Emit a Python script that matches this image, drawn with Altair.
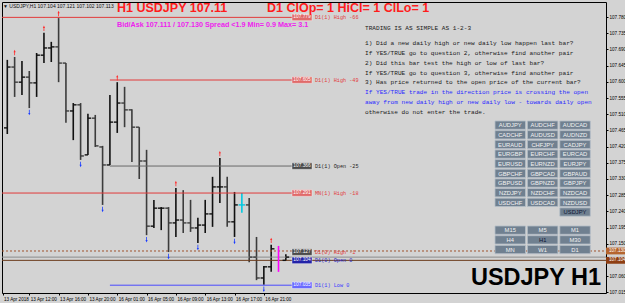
import altair as alt
import pandas as pd

# ---------------- data ----------------
bar_index = list(range(37)) + [38]
bar_open = [107.472, 107.641, 107.599, 107.613, 107.597, 107.674, 107.694, 107.697, 107.652, 107.519,
            107.536, 107.397, 107.499, 107.419, 107.369, 107.488, 107.541, 107.522, 107.474, 107.380,
            107.199, 107.249, 107.249, 107.208, 107.216, 107.208, 107.194, 107.202, 107.233, 107.308,
            107.308, 107.211, 107.258, 107.258, 107.113, 107.055, 107.086, 107.104]
bar_high = [107.661, 107.669, 107.658, 107.630, 107.680, 107.736, 107.711, 107.777, 107.652, 107.541,
            107.541, 107.511, 107.508, 107.422, 107.563, 107.599, 107.586, 107.524, 107.474, 107.411,
            107.272, 107.252, 107.252, 107.305, 107.299, 107.272, 107.222, 107.272, 107.336, 107.388,
            107.336, 107.294, 107.291, 107.277, 107.169, 107.088, 107.147, 107.121]
bar_low = [107.455, 107.558, 107.563, 107.527, 107.558, 107.652, 107.655, 107.599, 107.486, 107.438,
           107.383, 107.397, 107.419, 107.258, 107.369, 107.458, 107.474, 107.377, 107.330, 107.174,
           107.194, 107.188, 107.127, 107.169, 107.180, 107.183, 107.152, 107.180, 107.197, 107.263,
           107.197, 107.169, 107.236, 107.099, 107.049, 107.036, 107.072, 107.102]
bar_close = [107.641, 107.599, 107.613, 107.597, 107.674, 107.694, 107.697, 107.652, 107.519, 107.536,
             107.394, 107.499, 107.422, 107.369, 107.488, 107.541, 107.522, 107.474, 107.380, 107.199,
             107.249, 107.249, 107.208, 107.216, 107.208, 107.194, 107.202, 107.233, 107.308, 107.308,
             107.211, 107.258, 107.258, 107.113, 107.055, 107.086, 107.136, 107.113]
cyan_bar = 32
magenta_bar = [37]
magenta_high = [107.144]
magenta_low = [107.072]

up_arrow_bars = [1, 5, 7, 15, 23, 29, 36]
down_arrow_bars = [3, 10, 13, 19, 22, 26, 31, 35]

level_price = [107.779, 107.605, 107.366, 107.291, 107.035]
level_start = [-0.72, 14, 14, -0.72, 14]
level_color = ["#e23b3b", "#e23b3b", "#6a6a6a", "#e23b3b", "#4a4aff"]

tag_price = [107.779, 107.605, 107.366, 107.291, 107.127, 107.104, 107.035]
tag_fill = ["#e06a6a", "#e06a6a", "#4a4a4a", "#e06a6a", "#4a4a4a", "#2323a8", "#6a6aff"]
tag_label = ["D1(1) High  -66", "D1(1) High  -49", "D1(1) Open  -25", "MN(1) High  -18",
             "D1(0) High  -1", "D1(0) Open  0", "D1(1) Low  0"]
tag_label_color = ["#e23b3b", "#e23b3b", "#222222", "#e23b3b", "#e23b3b", "#2323c8", "#3a3aff"]

ask_price = [107.130]
bid_price = [107.113]
dopen_price = [107.104]
axis_tag_price = [107.130, 107.104]
axis_tag_fill = ["#b5652e", "#8e3e12"]

ytick_values = [107.015, 107.060, 107.150, 107.195, 107.240, 107.285, 107.330, 107.375, 107.420,
                107.465, 107.510, 107.555, 107.600, 107.645, 107.690, 107.735, 107.780]
xlab_pos = [-0.65, 3, 7, 11, 15, 19, 23, 27, 31, 35]
xlab_text = ["13 Apr 2018", "13 Apr 12:00", "13 Apr 16:00", "13 Apr 20:00", "16 Apr 01:00",
             "16 Apr 05:00", "16 Apr 09:00", "16 Apr 13:00", "16 Apr 17:00", "16 Apr 21:00"]

header_text = ["\u25bc USDJPY,H1  107.104 107.121 107.102 107.113"]
title_left = ["H1 USDJPY 107.11"]
title_right = ["D1 ClOp= 1 HiCl= 1 ClLo= 1"]
bidask_text = ["Bid/Ask 107.111 / 107.130  Spread  <1.9  Min= 0.9  Max= 3.1"]
big_text = ["USDJPY H1"]

rules_lines = ["TRADING IS AS SIMPLE AS 1-2-3",
               "1) Did a new daily high or new daily low happen last bar?",
               "If YES/TRUE go to question 2, otherwise find another pair",
               "2) Did this bar test the high or low of last bar?",
               "If YES/TRUE go to question 3, otherwise find another pair",
               "3) Has price returned to the open price of the current bar?",
               "If YES/TRUE trade in the direction price is crossing the open",
               "away from new daily high or new daily low - towards daily open",
               "otherwise do not enter the trade."]
rules_blue = [False, False, False, False, False, False, True, True, False]

pair_buttons = [["AUDJPY", "AUDCHF", "AUDCAD"], ["CADCHF", "AUDUSD", "AUDNZD"],
                ["EURAUD", "CHFJPY", "CADJPY"], ["EURGBP", "EURCHF", "EURCAD"],
                ["EURUSD", "EURNZD", "EURJPY"], ["GBPCHF", "GBPCAD", "GBPAUD"],
                ["GBPUSD", "GBPNZD", "GBPJPY"], ["NZDJPY", "NZDCHF", "NZDCAD"],
                ["USDCHF", "USDCAD", "NZDUSD"], ["", "", "USDJPY"]]
tf_buttons = [["M15", "M5", "M1"], ["H4", "H1", "M30"], ["MN", "W1", "D1"]]
selected = ["USDJPY", "H1"]

# ---------------- layout ----------------
W, H = 604, 291          # plot area (image x 2..606, y 2..293)
def vx(px): return px - 2
def vy(py): return py - 2

X0 = -5.3 / 7.33
X1 = (W - 5.3) / 7.33
xs = alt.Scale(domain=[X0, X1], nice=False, zero=False)
ys = alt.Scale(domain=[107.0133, 107.8217], nice=False, zero=False)
PPX = (107.8217 - 107.0133) / H     # price per pixel
TAG_END = (292 - 7.3) / 7.33

bars = pd.DataFrame({"i": bar_index, "O": bar_open, "H": bar_high, "L": bar_low, "C": bar_close})
bars["col"] = ["#00c8e0" if i == cyan_bar else ("#111111" if c >= o else "#3c3c3c")
               for i, o, c in zip(bar_index, bar_open, bar_close)]

expr = "''"
for p, t in reversed(list(zip(xlab_pos, xlab_text))):
    expr = f"abs(datum.value - ({p})) < 0.01 ? '{t}' : ({expr})"

main = alt.Chart(bars).mark_rule(strokeWidth=1.6).encode(
    x=alt.X("i:Q", scale=xs, axis=alt.Axis(values=xlab_pos, labelExpr=expr, labelAlign="left",
                                           labelFontSize=4.6, labelPadding=1, labelOffset=1, tickSize=2,
                                           domain=False, grid=False, labelOverlap=False, labelFlush=False,
                                           labelBound=False, title=None, tickColor="black",
                                           labelColor="black", labelFont="Liberation Sans")),
    y=alt.Y("H:Q", scale=ys, axis=alt.Axis(orient="right", values=ytick_values, format=".3f",
                                           labelFontSize=4.6, labelPadding=1, tickSize=2, domain=False,
                                           grid=False, labelOverlap=False, labelFlush=False,
                                           labelBound=False, title=None, tickColor="black",
                                           labelColor="black", labelFont="Liberation Sans")),
    y2="L:Q",
    color=alt.Color("col:N", scale=None),
)

open_ticks = alt.Chart(bars).transform_calculate(xo="datum.i - 0.45").mark_rule(strokeWidth=1.4).encode(
    x=alt.X("xo:Q", scale=xs, axis=None), x2="i:Q",
    y=alt.Y("O:Q", scale=ys, axis=None), color=alt.Color("col:N", scale=None))
close_ticks = alt.Chart(bars).transform_calculate(xc="datum.i + 0.45").mark_rule(strokeWidth=1.4).encode(
    x=alt.X("i:Q", scale=xs, axis=None), x2="xc:Q",
    y=alt.Y("C:Q", scale=ys, axis=None), color=alt.Color("col:N", scale=None))

mag = pd.DataFrame({"i": magenta_bar, "H": magenta_high, "L": magenta_low})
magenta = alt.Chart(mag).mark_rule(strokeWidth=1.6, color="#ff00ff").encode(
    x=alt.X("i:Q", scale=xs, axis=None), y=alt.Y("H:Q", scale=ys, axis=None), y2="L:Q")

up = pd.DataFrame({"i": up_arrow_bars, "p": [bar_high[k] for k in up_arrow_bars]})
dn = pd.DataFrame({"i": down_arrow_bars, "p": [bar_low[k] for k in down_arrow_bars]})
up_arrows = alt.Chart(up).transform_calculate(pa=f"datum.p + {4.5 * PPX}").mark_point(
    shape="arrow", filled=True, size=30, color="#ff2a2a", opacity=1).encode(
    x=alt.X("i:Q", scale=xs, axis=None), y=alt.Y("pa:Q", scale=ys, axis=None))
dn_arrows = alt.Chart(dn).transform_calculate(pa=f"datum.p - {4.5 * PPX}").mark_point(
    shape="arrow", angle=180, filled=True, size=30, color="#1a3cff", opacity=1).encode(
    x=alt.X("i:Q", scale=xs, axis=None), y=alt.Y("pa:Q", scale=ys, axis=None))

lv = pd.DataFrame({"p": level_price, "s": level_start, "c": level_color})
lv["e"] = TAG_END
levels = alt.Chart(lv).mark_rule(strokeWidth=1).encode(
    x=alt.X("s:Q", scale=xs, axis=None), x2="e:Q",
    y=alt.Y("p:Q", scale=ys, axis=None), color=alt.Color("c:N", scale=None))

full_solid = pd.DataFrame({"p": bid_price + dopen_price, "c": ["#8c8c8c", "#6b3a1a"]})
solid_lines = alt.Chart(full_solid).mark_rule(strokeWidth=1).encode(
    x=alt.value(0), x2=alt.value(W), y=alt.Y("p:Q", scale=ys, axis=None),
    color=alt.Color("c:N", scale=None))
ask_line = alt.Chart(pd.DataFrame({"p": ask_price})).mark_rule(
    strokeWidth=1, strokeDash=[2, 2], color="#a0522d").encode(
    x=alt.value(0), x2=alt.value(W), y=alt.Y("p:Q", scale=ys, axis=None))

tags = pd.DataFrame({"p": tag_price, "f": tag_fill, "lab": tag_label, "lc": tag_label_color})
tags["t"] = [f"{p:.3f}" for p in tag_price]
half = 3.3 * PPX
tag_boxes = alt.Chart(tags).transform_calculate(
    p0=f"datum.p - {half}", p1=f"datum.p + {half}").mark_rect(stroke="#ffffff", strokeWidth=0.4).encode(
    x=alt.value(vx(292)), x2=alt.value(vx(312)),
    y=alt.Y("p0:Q", scale=ys, axis=None), y2="p1:Q", fill=alt.Fill("f:N", scale=None))
tag_text = alt.Chart(tags).mark_text(fontSize=4.8, color="white", align="center", baseline="middle",
                                     font="Liberation Sans").encode(
    x=alt.value(vx(302)), y=alt.Y("p:Q", scale=ys, axis=None), text="t:N")
tag_labels = alt.Chart(tags).mark_text(fontSize=5.2, align="left", baseline="middle",
                                       font="Liberation Mono").encode(
    x=alt.value(vx(315)), y=alt.Y("p:Q", scale=ys, axis=None), text="lab:N",
    color=alt.Color("lc:N", scale=None))

at = pd.DataFrame({"p": axis_tag_price, "f": axis_tag_fill})
at["t"] = [f"{p:.3f}" for p in axis_tag_price]
axis_boxes = alt.Chart(at).transform_calculate(
    p0=f"datum.p - {3.4 * PPX}", p1=f"datum.p + {3.4 * PPX}").mark_rect().encode(
    x=alt.value(W), x2=alt.value(W + 19), y=alt.Y("p0:Q", scale=ys, axis=None), y2="p1:Q",
    fill=alt.Fill("f:N", scale=None))
axis_text = alt.Chart(at).mark_text(fontSize=4.6, color="white", align="left", baseline="middle",
                                    font="Liberation Sans").encode(
    x=alt.value(W + 3), y=alt.Y("p:Q", scale=ys, axis=None), text="t:N")


def one_text(txt, x, y, **kw):
    return alt.Chart(pd.DataFrame({"t": txt})).mark_text(**kw).encode(
        x=alt.value(x), y=alt.value(y), text="t:N")


header = one_text(header_text, vx(3), vy(5.5), fontSize=5, align="left", baseline="middle",
                  font="Liberation Sans", color="#111111")
t_left = one_text(title_left, vx(117), vy(12), fontSize=12.5, fontWeight="bold", align="left",
                  baseline="alphabetic", font="Liberation Sans", color="#ff1c1c")
t_right = one_text(title_right, vx(267), vy(12), fontSize=12.5, fontWeight="bold", align="left",
                   baseline="alphabetic", font="Liberation Sans", color="#ff1c1c")
t_bid = one_text(bidask_text, vx(117), vy(27), fontSize=7.2, fontWeight="bold", align="left",
                 baseline="alphabetic", font="Liberation Sans", color="#ee22ee")
t_big = one_text(big_text, vx(536), vy(285), fontSize=23.5, fontWeight="bold", align="center",
                 baseline="alphabetic", font="Liberation Sans", color="#000000")

rl = pd.DataFrame({"t": rules_lines,
                   "c": ["#2a2aff" if b else "#1a1a1a" for b in rules_blue]})
rl["py"] = [vy(27.7)] + [vy(43.3 + 9.77 * k) for k in range(len(rules_lines) - 1)]
rules_text = alt.Chart(rl).mark_text(fontSize=6.1, align="left", baseline="middle",
                                     font="Liberation Mono").encode(
    x=alt.value(vx(365)), y=alt.Y("py:Q", scale=None, axis=None), text="t:N",
    color=alt.Color("c:N", scale=None))

rows = []
for r, row in enumerate(pair_buttons):
    for c, name in enumerate(row):
        if name:
            rows.append({"t": name, "x0": vx(495 + 32.4 * c), "y0": vy(121 + 9.65 * r)})
for r, row in enumerate(tf_buttons):
    for c, name in enumerate(row):
        rows.append({"t": name, "x0": vx(495 + 32.4 * c), "y0": vy(226 + 9.7 * r)})
btn = pd.DataFrame(rows)
btn["x1"] = btn["x0"] + 30.5
btn["y1"] = btn["y0"] + 8.3
btn["xm"] = btn["x0"] + 15.25
btn["ym"] = btn["y0"] + 4.4
btn["tc"] = ["#0d1433" if t in selected else "#f2f2f2" for t in btn["t"]]
buttons = alt.Chart(btn).mark_rect(fill="#708090", stroke="#b4bec8", strokeWidth=0.8).encode(
    x=alt.X("x0:Q", scale=None, axis=None), x2="x1:Q",
    y=alt.Y("y0:Q", scale=None, axis=None), y2="y1:Q")
button_text = alt.Chart(btn).mark_text(fontSize=5.8, align="center", baseline="middle",
                                       font="Liberation Sans").encode(
    x=alt.X("xm:Q", scale=None, axis=None), y=alt.Y("ym:Q", scale=None, axis=None),
    text="t:N", color=alt.Color("tc:N", scale=None))

chart = alt.layer(
    main, levels, solid_lines, ask_line, open_ticks, close_ticks, magenta, up_arrows, dn_arrows,
    tag_boxes, tag_text, tag_labels, axis_boxes, axis_text,
    header, t_left, t_right, t_bid, rules_text, buttons, button_text, t_big,
).resolve_scale(x="independent", y="independent").properties(
    width=W, height=H, autosize=alt.AutoSizeParams(type="none"),
    padding={"left": 2, "top": 2, "right": 19, "bottom": 10},
    background="#d3d3d3",
).configure_view(stroke="#000000", strokeWidth=1, fill="#d3d3d3")

chart.save("out.html", embed_options={"renderer": "svg", "actions": False})
